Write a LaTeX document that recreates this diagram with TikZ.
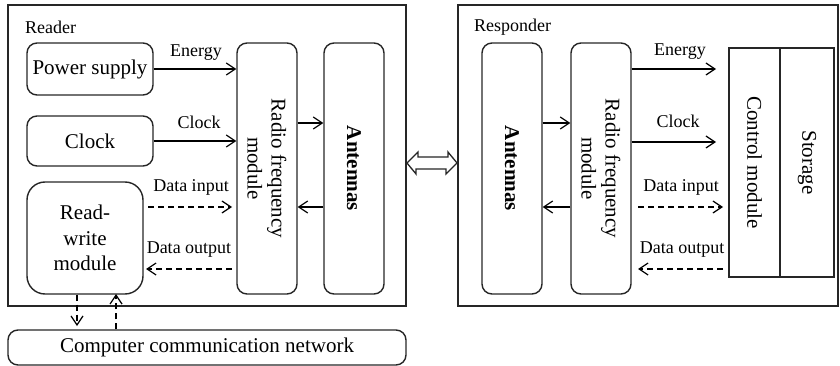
\documentclass[tikz,border=0pt]{standalone}
\usepackage{fontspec}
\setmainfont{Liberation Serif}
\usetikzlibrary{arrows.meta,calc}
\begin{document}
\begin{tikzpicture}[x=1pt,y=-1pt,
  outer/.style={draw=black!85, line width=1.9pt, minimum width=#1, inner sep=0pt},
  rbox/.style={draw=black!85, line width=1.4pt, rounded corners=10pt, inner sep=0pt, font=\fontsize{21}{24}\selectfont, align=center},
  sbox/.style={draw=black!85, line width=1.4pt, inner sep=0pt, font=\fontsize{21}{24}\selectfont, align=center},
  lbl/.style={font=\fontsize{18}{20}\selectfont, inner sep=0pt},
  arr/.style={line width=1.2pt, -{Straight Barb[length=9pt,width=12pt,line width=1.2pt]}},
  darr/.style={arr, dash pattern=on 6pt off 4pt}
]
\useasboundingbox (0,0) rectangle (840,366);
% outer frames
\node[outer=398pt, minimum height=301pt] (reader) at (207,155.5) {};
\node[outer=380pt, minimum height=301pt] (resp) at (648,155.5) {};
\node[lbl, anchor=west] (readerlbl) at (25,27) {Reader};
\node[lbl, anchor=west] (resplbl) at (474,27) {Responder};
% reader blocks
\node[rbox, minimum width=126pt, minimum height=52pt] (pwr) at (90,69) {Power supply};
\node[rbox, minimum width=126pt, minimum height=50pt] (clk) at (90,141) {Clock};
\node[rbox, rounded corners=18pt, minimum width=116pt, minimum height=112pt, font=\fontsize{21}{25.5}\selectfont] (rw) at (85,238) {Read-\\write\\module};
\node[rbox, minimum width=398pt, minimum height=35pt] (net) at (207,347.5) {Computer communication network};
\node[rbox, minimum width=60pt, minimum height=251pt] (rf1) at (267,168.5) {};
\node[font=\fontsize{21}{24}\selectfont, align=center, rotate=-90] (rf1t) at (rf1.center) {Radio frequency\\module};
\node[rbox, minimum width=60pt, minimum height=251pt] (ant1) at (354,168.5) {};
\node[font=\fontsize{21}{24}\selectfont\bfseries, rotate=-90] (ant1t) at (ant1.center) {Antennas};
% responder blocks
\node[rbox, minimum width=60pt, minimum height=251pt] (ant2) at (512,168.5) {};
\node[font=\fontsize{21}{24}\selectfont\bfseries, rotate=-90] (ant2t) at (ant2.center) {Antennas};
\node[rbox, minimum width=60pt, minimum height=251pt] (rf2) at (601,168.5) {};
\node[font=\fontsize{21}{24}\selectfont, align=center, rotate=-90] (rf2t) at (rf2.center) {Radio frequency\\module};
\node[sbox, minimum width=51pt, minimum height=229pt] (ctrl) at (754.5,162.5) {};
\node[font=\fontsize{21}{24}\selectfont, rotate=-90] (ctrlt) at (ctrl.center) {Control module};
\node[sbox, minimum width=54pt, minimum height=229pt] (stor) at (807,162.5) {};
\node[font=\fontsize{21}{24}\selectfont, rotate=-90] (stort) at (stor.center) {Storage};
% reader connectors
\draw[arr] (pwr.east) -- (pwr.east -| rf1.west);
\node[lbl] (en1) at (196,53) {Energy};
\draw[arr] (clk.east) -- (clk.east -| rf1.west);
\node[lbl] (cl1) at (199,122) {Clock};
\coordinate (di1a) at (148,207); \coordinate (di1b) at (232,207);
\draw[darr] (di1a) -- (di1b);
\node[lbl] (di1) at (191,187) {Data input};
\coordinate (do1a) at (232,269); \coordinate (do1b) at (146,269);
\draw[darr] (do1a) -- (do1b);
\node[lbl] (do1) at (189,250) {Data output};
\draw[arr] (rf1.east |- 0,123) -- (ant1.west |- 0,123);
\draw[arr] (ant1.west |- 0,207) -- (rf1.east |- 0,207);
\coordinate (dn) at (77,326);
\draw[darr] (rw.south -| dn) -- (dn);
\coordinate (up) at (116,294);
\draw[darr] (net.north -| up) -- (up);
% double arrow between frames
\draw[line width=1.3pt, draw=black!85, fill=white, line join=miter]
  (reader.east |- 0,163) -- ++(11,-11) -- ++(0,5) -- ++(30,0) -- ++(0,-5)
  -- (resp.west |- 0,163) -- ++(-11,11) -- ++(0,-5) -- ++(-30,0) -- ++(0,5) -- cycle;
% responder connectors
\draw[arr] (ant2.east |- 0,123) -- (rf2.west |- 0,123);
\draw[arr] (rf2.west |- 0,207) -- (ant2.east |- 0,207);
\coordinate (e2) at (716,69);
\draw[arr] (rf2.east |- e2) -- (e2);
\node[lbl] (en2) at (680,52) {Energy};
\coordinate (c2) at (716,142);
\draw[arr] (rf2.east |- c2) -- (c2);
\node[lbl] (cl2) at (678,121) {Clock};
\coordinate (di2a) at (638,207); \coordinate (di2b) at (723,207);
\draw[darr] (di2a) -- (di2b);
\node[lbl] (di2) at (681,187) {Data input};
\coordinate (do2a) at (723,269); \coordinate (do2b) at (638,269);
\draw[darr] (do2a) -- (do2b);
\node[lbl] (do2) at (682,250) {Data output};
\end{tikzpicture}
\end{document}
